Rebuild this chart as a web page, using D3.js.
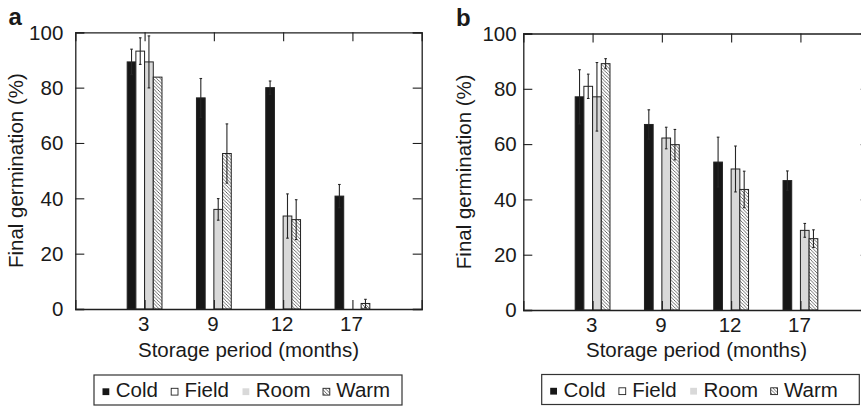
<!DOCTYPE html>
<html>
<head>
<meta charset="utf-8">
<script src="https://cdn.jsdelivr.net/npm/d3@7/dist/d3.min.js"></script>
<style>
  html, body { margin: 0; padding: 0; background: #fff; }
  svg { display: block; }
  text { font-family: "Liberation Sans", Arial, Helvetica, sans-serif; fill: #1a1a1a; }
</style>
</head>
<body>
<svg id="chart" width="861" height="408"></svg>
<script>
// Storage period categories (months)
const categories = ["3", "9", "12", "17"];
const seriesNames = ["Cold", "Field", "Room", "Warm"];
const yTicks = [0, 20, 40, 60, 80, 100];

// Panel a: mean final germination (%) and error
const aCold  = [89.3, 76.3, 80.0, 40.8];
const aField = [93.2, 0, 0, 0];
const aRoom  = [89.3, 36.0, 33.6, 0];
const aWarm  = [83.8, 56.2, 32.3, 2.0];
const aColdErr  = [4.6, 7.0, 2.4, 4.2];
const aFieldErr = [4.8, 0, 0, 0];
const aRoomErr  = [9.4, 3.9, 8.0, 0];
const aWarmErr  = [0, 10.7, 7.2, 1.5];

// Panel b: mean final germination (%) and error
const bCold  = [77.1, 67.1, 53.5, 46.8];
const bField = [80.9, 0, 0, 0];
const bRoom  = [77.1, 62.2, 51.0, 28.8];
const bWarm  = [89.1, 59.8, 43.6, 25.8];
const bColdErr  = [9.8, 5.3, 9.0, 3.5];
const bFieldErr = [4.4, 0, 0, 0];
const bRoomErr  = [12.4, 3.9, 8.3, 2.5];
const bWarmErr  = [1.8, 5.5, 6.6, 3.2];

const svg = d3.select("#chart");
const INK = "#1f1f1f";
const FONT = 20.5;

// Diagonal hatch used for the Warm series
const defs = svg.append("defs");
const pat = defs.append("pattern")
  .attr("id", "hatch").attr("patternUnits", "userSpaceOnUse")
  .attr("width", 3.4).attr("height", 3.4);
pat.append("rect").attr("width", 3.4).attr("height", 3.4).attr("fill", "#fff");
pat.append("path")
  .attr("d", "M-1,-1 L4.4,4.4 M-1,2.4 L1,4.4 M2.4,-1 L4.4,1")
  .attr("stroke", "#3a3a3a").attr("stroke-width", 0.75);

const fills = { Cold: "#171717", Field: "#ffffff", Room: "#d9d9d9", Warm: "url(#hatch)" };

function drawPanel(cfg) {
  const { left, right, top, bottom, values, errors, letter } = cfg;
  const g = svg.append("g");

  const x = d3.scalePoint().domain(categories).range([left, right]).padding(1);
  const y = d3.scaleLinear().domain([0, 100]).range([bottom, top]);
  const inner = d3.scaleBand().domain(seriesNames).range([-17.4, 17.4]).paddingInner(0);

  // bars
  seriesNames.forEach((s, si) => {
    const rows = categories.map((c, i) => ({ c, v: values[si][i], e: errors[si][i] }));
    g.selectAll(null).data(rows).enter().append("rect")
      .attr("x", d => x(d.c) + inner(s))
      .attr("y", d => y(d.v))
      .attr("width", inner.bandwidth())
      .attr("height", d => y(0) - y(d.v))
      .attr("fill", fills[s])
      .attr("stroke", d => d.v > 0 ? "#222" : "none")
      .attr("stroke-width", 1);

    // error bars
    const eb = rows.filter(d => d.e > 0);
    const cx = d => x(d.c) + inner(s) + inner.bandwidth() / 2;
    g.selectAll(null).data(eb).enter().append("line")
      .attr("x1", cx).attr("x2", cx)
      .attr("y1", d => y(d.v - d.e)).attr("y2", d => y(d.v + d.e))
      .attr("stroke", "#262626").attr("stroke-width", 1.1);
    ["lo", "hi"].forEach(k => {
      g.selectAll(null).data(eb).enter().append("line")
        .attr("x1", d => cx(d) - 1.3).attr("x2", d => cx(d) + 1.3)
        .attr("y1", d => y(k === "lo" ? d.v - d.e : d.v + d.e))
        .attr("y2", d => y(k === "lo" ? d.v - d.e : d.v + d.e))
        .attr("stroke", "#262626").attr("stroke-width", 1.1);
    });
  });

  // frame axes with inward ticks
  const tl = 9;
  const axL = g.append("g").attr("transform", `translate(${left},0)`)
    .call(d3.axisRight(y).tickValues(yTicks).tickSize(tl).tickFormat(""));
  const axR = g.append("g").attr("transform", `translate(${right},0)`)
    .call(d3.axisLeft(y).tickValues(yTicks).tickSize(tl).tickFormat(""));
  const axT = g.append("g").attr("transform", `translate(0,${top})`)
    .call(d3.axisBottom(x).tickSize(tl).tickFormat(""));
  const axB = g.append("g").attr("transform", `translate(0,${bottom})`)
    .call(d3.axisTop(x).tickSize(tl).tickFormat(""));
  [axL, axR, axT, axB].forEach(a => {
    a.select(".domain").attr("stroke", INK).attr("stroke-width", 1.3);
    a.selectAll(".tick line").attr("stroke", INK).attr("stroke-width", 1.1);
  });

  // y tick labels
  g.selectAll(null).data(yTicks).enter().append("text")
    .attr("x", left - cfg.yLabelGap).attr("y", d => y(d))
    .attr("dy", "0.36em").attr("text-anchor", "end")
    .attr("font-size", FONT).text(d => d);

  // x tick labels
  g.selectAll(null).data(categories).enter().append("text")
    .attr("x", d => x(d) - 1).attr("y", bottom + 21.5)
    .attr("text-anchor", "middle").attr("font-size", FONT).text(d => d);

  // axis titles
  g.append("text")
    .attr("x", left + 173.2).attr("y", 356.5)
    .attr("text-anchor", "middle").attr("font-size", FONT)
    .text("Storage period (months)");
  g.append("text")
    .attr("transform", `translate(${left - 52.6},${(top + bottom) / 2}) rotate(-90)`)
    .attr("text-anchor", "middle").attr("font-size", FONT)
    .text("Final germination (%)");

  // panel letter
  g.append("text").attr("x", cfg.letterX).attr("y", cfg.letterY)
    .attr("font-size", 24).attr("font-weight", "bold").text(letter);

  // legend
  const lg = g.append("g").attr("transform", `translate(${cfg.legX},${cfg.legY})`);
  lg.append("rect").attr("width", cfg.legW).attr("height", 30)
    .attr("fill", "#fff").attr("stroke", "#333").attr("stroke-width", 1.2);
  const offs = [8.5, 77.2, 148.5, 229];
  seriesNames.forEach((s, i) => {
    lg.append("rect").attr("x", offs[i]).attr("y", 13.3).attr("width", 6.8).attr("height", 6.8)
      .attr("fill", fills[s])
      .attr("stroke", s === "Room" ? "none" : "#222").attr("stroke-width", s === "Cold" ? 0 : 0.9);
    lg.append("text").attr("x", offs[i] + 13.3).attr("y", 22.3)
      .attr("font-size", FONT).text(s);
  });
}

drawPanel({
  left: 75.3, right: 421.7, top: 32.3, bottom: 309,
  values: [aCold, aField, aRoom, aWarm],
  errors: [aColdErr, aFieldErr, aRoomErr, aWarmErr],
  letter: "a", letterX: 8.5, letterY: 24.5, yLabelGap: 12,
  legX: 94, legY: 375, legW: 308
});

drawPanel({
  left: 523.3, right: 869.7, top: 33.5, bottom: 310,
  values: [bCold, bField, bRoom, bWarm],
  errors: [bColdErr, bFieldErr, bRoomErr, bWarmErr],
  letter: "b", letterX: 456, letterY: 26, yLabelGap: 6.6,
  legX: 541.7, legY: 374.5, legW: 317.6
});
</script>
</body>
</html>
